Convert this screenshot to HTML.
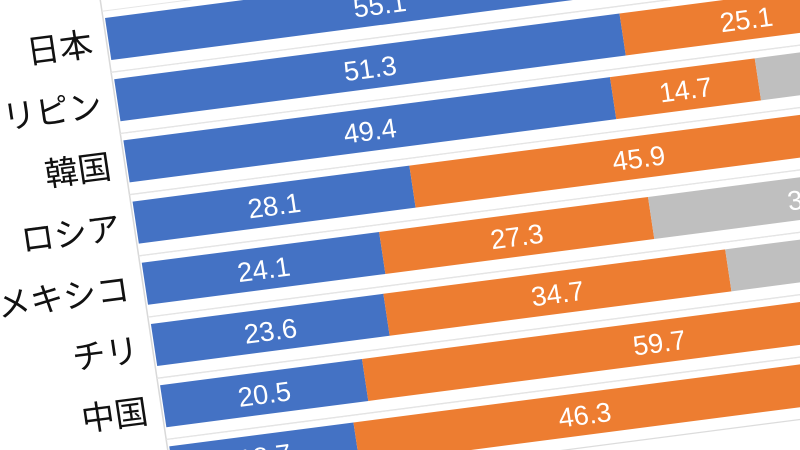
<!DOCTYPE html>
<html><head><meta charset="utf-8"><style>
html,body{margin:0;padding:0;background:#fff;width:800px;height:450px;overflow:hidden}
svg{display:block;overflow:hidden}
</style></head><body>
<svg id="chart" width="800" height="450" viewBox="0 0 800 450" xmlns="http://www.w3.org/2000/svg">
<g id="plot" transform="matrix(1 -0.13 0.15 1 105 18)"></g>
</svg>
<script>
const categories = ["日本", "フィリピン", "韓国", "ロシア", "メキシコ", "チリ", "中国", "その他"];
const seriesA = [55.1, 51.3, 49.4, 28.1, 24.1, 23.6, 20.5, 18.7];
const seriesB = [25.0, 25.1, 14.7, 45.9, 27.3, 34.7, 59.7, 46.3];
const seriesC = [19.9, 23.6, 35.9, 26.0, 33.0, 41.7, 19.8, 35.0];
const seriesColors = ["#4472c4", "#ed7d31", "#bfbfbf"];
const seriesNames = ["series-a", "series-b", "series-c"];

const NS = "http://www.w3.org/2000/svg";
const g = document.getElementById("plot");
const PX = 9.85, PITCH = 61.2, BAR_H = 42;
function xScale(v){ return v * PX; }
function yRow(i){ return i * PITCH; }

const ax = document.createElementNS(NS, "line");


ax.setAttribute("x1", -2); ax.setAttribute("x2", -2);
ax.setAttribute("y1", -40); ax.setAttribute("y2", 480);
ax.setAttribute("stroke", "#d9d9d9"); ax.setAttribute("stroke-width", "1.5");
g.appendChild(ax);

const series = [seriesA, seriesB, seriesC];
categories.forEach((cat, i) => {
  const y0 = yRow(i);
  const gl = document.createElementNS(NS, "line");
  
  
  gl.setAttribute("x1", -2); gl.setAttribute("x2", 1000);
  gl.setAttribute("y1", y0 + 54); gl.setAttribute("y2", y0 + 54);
  gl.setAttribute("stroke", "#dcdcdc"); gl.setAttribute("stroke-width", "1.2");
  g.appendChild(gl);
  const gl2 = document.createElementNS(NS, "line");
  
  
  gl2.setAttribute("x1", -2); gl2.setAttribute("x2", 1000);
  gl2.setAttribute("y1", y0 - 7); gl2.setAttribute("y2", y0 - 7);
  gl2.setAttribute("stroke", "#e6e6e6"); gl2.setAttribute("stroke-width", "1");
  g.appendChild(gl2);

  let acc = 0;
  series.forEach((s, k) => {
    const v = s[i];
    const r = document.createElementNS(NS, "rect");
    
    
    r.setAttribute("x", xScale(acc));
    r.setAttribute("y", y0);
    r.setAttribute("width", xScale(v));
    r.setAttribute("height", BAR_H);
    r.setAttribute("fill", seriesColors[k]);
    g.appendChild(r);
    const t = document.createElementNS(NS, "text");
    
    
    t.setAttribute("x", xScale(acc + v / 2));
    t.setAttribute("y", y0 + BAR_H / 2 + 1);
    t.setAttribute("text-anchor", "middle");
    t.setAttribute("dominant-baseline", "central");
    t.setAttribute("fill", "#fff");
    t.setAttribute("font-size", "27");
    t.setAttribute("font-family", "'Liberation Sans', 'Noto Sans CJK JP', sans-serif");
    t.textContent = v.toFixed(1);
    g.appendChild(t);
    acc += v;
  });

  const c = document.createElementNS(NS, "text");
  
  
  c.setAttribute("x", -16);
  c.setAttribute("y", y0 + BAR_H / 2 + 4);
  c.setAttribute("text-anchor", "end");
  c.setAttribute("dominant-baseline", "central");
  c.setAttribute("fill", "#111");
  c.setAttribute("font-size", "33");
  c.setAttribute("font-family", "'Liberation Sans', 'Noto Sans CJK JP', sans-serif");
  c.textContent = cat;
  g.appendChild(c);
});
</script>
</body></html>
